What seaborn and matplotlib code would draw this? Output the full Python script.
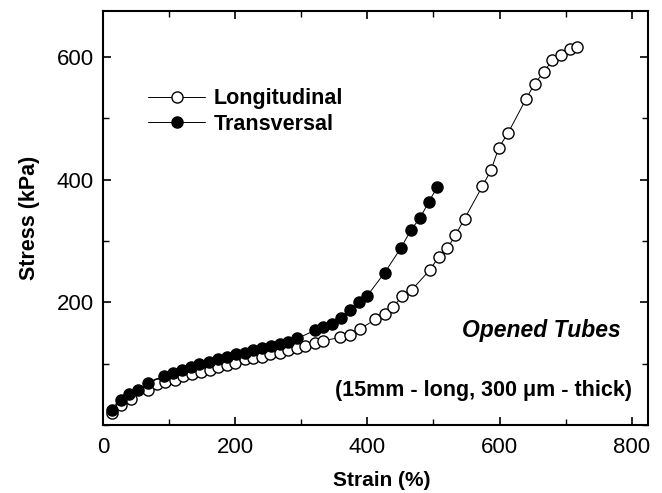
import matplotlib
matplotlib.use("Agg")
import matplotlib.pyplot as plt
import seaborn as sns
import pandas as pd
from matplotlib.ticker import MultipleLocator

sns.set_theme(style="ticks")
plt.rcParams['font.family'] = ['Liberation Sans', 'DejaVu Sans']
plt.rcParams['text.color'] = 'black'
plt.rcParams['axes.labelcolor'] = 'black'
plt.rcParams['xtick.color'] = 'black'
plt.rcParams['ytick.color'] = 'black'

# Longitudinal (open circles)
long_strain = [13, 27, 42, 67, 81, 94, 108, 121, 134, 148, 161, 174, 187, 200, 214, 227,
               240, 253, 267, 280, 293, 306, 320, 333, 359, 374, 388, 412, 426, 439, 453,
               467, 494, 508, 521, 533, 547, 574, 587, 599, 613, 640, 653, 667, 680, 693,
               706, 717]
long_stress = [20, 33, 43, 57, 67, 70, 74, 79, 83, 87, 89, 94, 98, 101, 107, 109,
               111, 115, 118, 122, 125, 128, 133, 137, 143, 147, 156, 172, 181, 193, 210,
               220, 252, 274, 288, 309, 336, 389, 415, 452, 476, 531, 556, 575, 595, 603,
               612, 616]

# Transversal (filled circles)
trans_strain = [13, 27, 39, 53, 67, 92, 106, 119, 133, 145, 160, 173, 187, 201, 214, 227,
                241, 254, 267, 280, 294, 320, 333, 347, 360, 374, 387, 400, 426, 451,
                466, 480, 493, 506]
trans_stress = [24, 40, 51, 57, 68, 80, 85, 90, 95, 99, 103, 107, 111, 115, 118, 122,
                125, 128, 132, 135, 141, 154, 159, 165, 175, 187, 200, 211, 248, 289,
                318, 338, 364, 388]

df = pd.concat([
    pd.DataFrame({"Strain": long_strain, "Stress": long_stress, "Series": "Longitudinal"}),
    pd.DataFrame({"Strain": trans_strain, "Stress": trans_stress, "Series": "Transversal"}),
])

fig = plt.figure(figsize=(6.62, 4.93), dpi=100)
ax = fig.add_axes([0.156, 0.138, 0.823, 0.840])

sub_l = df[df.Series == "Longitudinal"]
sub_t = df[df.Series == "Transversal"]
sns.lineplot(data=sub_l, x="Strain", y="Stress", ax=ax, color="black", linewidth=0.7,
             marker="o", markersize=8, markerfacecolor="white", markeredgecolor="black",
             markeredgewidth=1.0, label="Longitudinal", sort=False)
sns.lineplot(data=sub_t, x="Strain", y="Stress", ax=ax, color="black", linewidth=0.7,
             marker="o", markersize=8, markerfacecolor="black", markeredgecolor="black",
             markeredgewidth=1.0, label="Transversal", sort=False)

ax.set_xlim(0, 825)
ax.set_ylim(0, 675)
ax.xaxis.set_major_locator(MultipleLocator(200))
ax.xaxis.set_minor_locator(MultipleLocator(100))
ax.set_yticks([200, 400, 600])
ax.yaxis.set_minor_locator(MultipleLocator(100))
ax.tick_params(which="both", direction="in", top=True, right=True, colors="black",
               labelsize=16)
ax.tick_params(axis="x", which="major", pad=9)
ax.tick_params(axis="y", which="major", pad=7)
ax.tick_params(which="major", length=6, width=1.2)
ax.tick_params(which="minor", length=4, width=1.0)
for s in ax.spines.values():
    s.set_linewidth(1.5)
    s.set_color("black")

ax.set_xlabel("Strain (%)", fontsize=15, fontweight="bold")
ax.xaxis.set_label_coords(0.512, -0.112)
ax.set_ylabel("Stress (kPa)", fontsize=15.5, fontweight="bold", labelpad=12)

leg = ax.legend(loc="upper left", bbox_to_anchor=(0.047, 0.86), frameon=False,
                prop={"weight": "bold", "size": 15.5}, handlelength=2.65,
                handletextpad=0.37, labelspacing=0.2)

ax.text(0.949, 0.229, "Opened Tubes", transform=ax.transAxes, ha="right", va="center",
        fontsize=16.5, fontweight="bold", fontstyle="italic")
ax.text(0.971, 0.084, "(15mm - long, 300 \u03bcm - thick)", transform=ax.transAxes,
        ha="right", va="center", fontsize=15.5, fontweight="bold")

fig.savefig("out.png", dpi=100)
